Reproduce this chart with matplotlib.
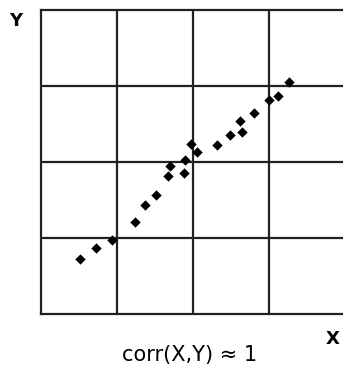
import matplotlib
matplotlib.use('Agg')
import matplotlib.pyplot as plt

# Scatter points (grid units, 4x4 cells)
x_vals = [0.52, 0.72, 0.93, 1.24, 1.37, 1.52, 1.67, 1.70, 1.88, 1.90,
          1.98, 2.05, 2.31, 2.49, 2.65, 2.62, 2.80, 3.00, 3.11, 3.26]
y_vals = [0.72, 0.87, 0.97, 1.21, 1.44, 1.57, 1.82, 1.95, 1.85, 2.03,
          2.24, 2.13, 2.23, 2.36, 2.39, 2.54, 2.65, 2.82, 2.87, 3.05]
grid_ticks = [1, 2, 3]
caption = 'corr(X,Y) \u2248 1'


def main():
    fig = plt.figure(figsize=(3.43, 3.69), dpi=100)
    ax = fig.add_axes([40.7 / 343, 55 / 369, 304.6 / 343, 304 / 369])

    ax.scatter(x_vals, y_vals, marker='D', s=28, color='black', zorder=3, linewidths=0)

    ax.set_xlim(0, 4)
    ax.set_ylim(0, 4)
    ax.set_xticks(grid_ticks)
    ax.set_yticks(grid_ticks)
    ax.tick_params(length=0, labelbottom=False, labelleft=False)
    ax.grid(True, color='#222222', linewidth=1.6)
    for side in ax.spines.values():
        side.set_linewidth(1.6)
        side.set_color('#222222')

    fig.text(16 / 343, 1 - 21 / 369, 'Y', ha='center', va='center', fontsize=13, fontweight='bold')
    fig.text(333 / 343, 1 - 339 / 369, 'X', ha='center', va='center', fontsize=13, fontweight='bold')
    fig.text(190 / 343, 1 - 355 / 369, caption, ha='center', va='center', fontsize=15)

    fig.savefig('out.png', dpi=100)


if __name__ == "__main__":
    main()
